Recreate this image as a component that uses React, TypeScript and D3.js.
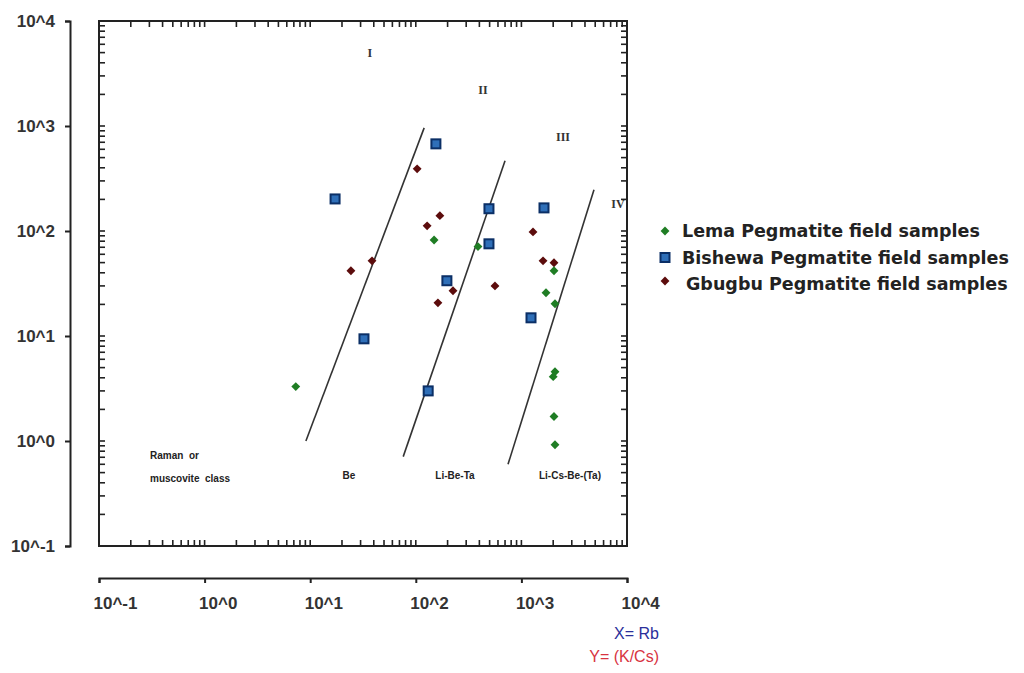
import { useEffect, useRef } from 'react';
import * as d3 from 'd3';

// Lema Pegmatite field samples (Rb vs K/Cs)
const lemaRb = [7.3, 149, 388, 1710, 2080, 2035, 2080, 2000, 2035, 2080];
const lemaKCs = [3.3, 82, 71, 25.8, 20.3, 41.8, 4.57, 4.1, 1.71, 0.92];

// Bishewa Pegmatite field samples
const bishewaRb = [17.2, 155, 32.3, 493, 493, 197, 1637, 1233, 131];
const bishewaKCs = [202, 676, 9.4, 163, 75.5, 33.6, 166, 14.9, 3.0];

// Gbugbu Pegmatite field samples
const gbugbuRb = [24.3, 38.5, 103, 128, 169, 162, 225, 562, 1288, 1603, 2035];
const gbugbuKCs = [41.8, 52, 391, 112, 140, 20.7, 27, 30, 98, 52, 49.8];

// class boundary lines (start, end)
const boundaryRb = [[9.1, 120], [76, 700], [747, 4870]];
const boundaryKCs = [[1.0, 960], [0.71, 466], [0.6, 247]];

// roman numeral class labels
const romanNames = ['I', 'II', 'III', 'IV'];
const romanRb = [36.8, 433, 2477, 8220];
const romanKCs = [4960, 2200, 787, 181];

// field names
const fieldNames = ['Be', 'Li-Be-Ta', 'Li-Cs-Be-(Ta)'];
const fieldRb = [23.3, 235, 2884];
const fieldKCs = [0.469, 0.469, 0.469];
const baremNames = ['Raman  or', 'muscovite  class'];
const baremRb = [0.304, 0.304];
const baremKCs = [0.73, 0.44];

const decades = [0.1, 1, 10, 100, 1000, 10000];
const legendNames = [
  'Lema Pegmatite field samples',
  'Bishewa Pegmatite field samples',
  'Gbugbu Pegmatite field samples',
];

const App = () => {
  const container = useRef(null);

  useEffect(() => {
    if (!container.current) return;
    const width = 1024, height = 673;
    const left = 99, right = 627, top = 21, bottom = 546;

    d3.select(container.current).selectAll('svg').remove();
    const svg = d3.select(container.current)
      .append('svg')
      .attr('width', width)
      .attr('height', height)
      .style('display', 'block')
      .style('background', '#fff');

    const x = d3.scaleLog().domain([0.1, 10000]).range([left, right]);
    const y = d3.scaleLog().domain([0.1, 10000]).range([bottom, top]);

    const fmt = (d: number) => '10^' + Math.round(Math.log10(d));

    // outer y axis
    const ya = svg.append('g')
      .attr('transform', 'translate(70,0)')
      .call(d3.axisLeft(y).tickValues(decades).tickFormat(fmt as any).tickSize(5).tickSizeOuter(5).tickPadding(10));
    ya.select('.domain').attr('stroke', '#222').attr('stroke-width', 2);
    ya.selectAll('.tick line').attr('stroke', '#222').attr('stroke-width', 2);
    ya.selectAll('.tick text')
      .attr('fill', '#333')
      .style('font-family', 'Liberation Sans, Arial, sans-serif')
      .style('font-weight', 'bold')
      .style('font-size', '17px');

    // outer x axis
    const xa = svg.append('g')
      .attr('transform', 'translate(0,578)')
      .call(d3.axisBottom(x).tickValues(decades).tickFormat(fmt as any).tickSize(5).tickSizeOuter(5).tickPadding(14));
    xa.select('.domain').attr('stroke', '#222').attr('stroke-width', 2);
    xa.selectAll('.tick line').attr('stroke', '#222').attr('stroke-width', 2);
    xa.selectAll('.tick text')
      .attr('fill', '#333')
      .attr('text-anchor', 'start')
      .attr('dx', -6)
      .style('font-family', 'Liberation Sans, Arial, sans-serif')
      .style('font-weight', 'bold')
      .style('font-size', '17px');

    // inner frame with log minor ticks
    svg.append('rect')
      .attr('x', left).attr('y', top)
      .attr('width', right - left).attr('height', bottom - top)
      .attr('fill', 'none').attr('stroke', '#222').attr('stroke-width', 2);

    const minor: number[] = [];
    [0.1, 1, 10, 100, 1000].forEach(k => {
      for (let m = 1; m <= 9; m++) minor.push(m * k);
    });
    const tl = 6;
    const frame = svg.append('g').attr('stroke', '#222').attr('stroke-width', 1.6);
    minor.forEach(v => {
      frame.append('line').attr('x1', x(v)).attr('x2', x(v)).attr('y1', top).attr('y2', top + tl);
      frame.append('line').attr('x1', x(v)).attr('x2', x(v)).attr('y1', bottom).attr('y2', bottom - tl);
      frame.append('line').attr('y1', y(v)).attr('y2', y(v)).attr('x1', left).attr('x2', left + tl);
      frame.append('line').attr('y1', y(v)).attr('y2', y(v)).attr('x1', right).attr('x2', right - tl);
    });

    // boundary lines
    boundaryRb.forEach((rb, i) => {
      svg.append('line')
        .attr('x1', x(rb[0])).attr('y1', y(boundaryKCs[i][0]))
        .attr('x2', x(rb[1])).attr('y2', y(boundaryKCs[i][1]))
        .attr('stroke', '#333').attr('stroke-width', 1.6);
    });

    // roman numerals
    romanNames.forEach((n, i) => {
      svg.append('text')
        .attr('x', x(romanRb[i])).attr('y', y(romanKCs[i]))
        .attr('dy', '0.35em')
        .attr('text-anchor', 'middle')
        .attr('fill', '#333')
        .style('font-family', 'Liberation Serif, serif')
        .style('font-weight', 'bold')
        .style('font-size', '12px')
        .text(n);
    });

    // field labels
    fieldNames.forEach((n, i) => {
      svg.append('text')
        .attr('x', x(fieldRb[i])).attr('y', y(fieldKCs[i]))
        .attr('dy', '0.35em')
        .attr('text-anchor', 'middle')
        .attr('fill', '#222')
        .style('font-family', 'Liberation Sans, Arial, sans-serif')
        .style('font-weight', 'bold')
        .style('font-size', '10px')
        .text(n);
    });
    baremNames.forEach((n, i) => {
      svg.append('text')
        .attr('x', x(baremRb[i])).attr('y', y(baremKCs[i]))
        .attr('dy', '0.35em')
        .attr('fill', '#222')
        .style('white-space', 'pre')
        .style('font-family', 'Liberation Sans, Arial, sans-serif')
        .style('font-weight', 'bold')
        .style('font-size', '10px')
        .text(n);
    });

    // markers
    const diamond = d3.symbol().type(d3.symbolDiamond2).size(50);
    const lema = lemaRb.map((r, i) => ({ r, k: lemaKCs[i] }));
    const bish = bishewaRb.map((r, i) => ({ r, k: bishewaKCs[i] }));
    const gbu = gbugbuRb.map((r, i) => ({ r, k: gbugbuKCs[i] }));

    svg.append('g').selectAll('path').data(gbu).join('path')
      .attr('d', diamond)
      .attr('transform', d => `translate(${x(d.r)},${y(d.k)})`)
      .attr('fill', '#5c0c0c');

    svg.append('g').selectAll('path').data(lema).join('path')
      .attr('d', diamond)
      .attr('transform', d => `translate(${x(d.r)},${y(d.k)})`)
      .attr('fill', '#1f7d24');

    svg.append('g').selectAll('rect').data(bish).join('rect')
      .attr('x', d => x(d.r) - 4.5).attr('y', d => y(d.k) - 4.5)
      .attr('width', 9).attr('height', 9)
      .attr('fill', '#2f6fb8')
      .attr('stroke', '#0b2f66').attr('stroke-width', 2);

    // legend
    const lg = svg.append('g').attr('transform', 'translate(665,231)');
    legendNames.forEach((n, i) => {
      const row = lg.append('g').attr('transform', `translate(0,${i * 26.5})`);
      if (i === 0) row.append('path').attr('d', diamond).attr('fill', '#1f7d24');
      if (i === 1) row.append('rect').attr('x', -4.5).attr('y', -4.5).attr('width', 9).attr('height', 9)
        .attr('fill', '#2f6fb8').attr('stroke', '#0b2f66').attr('stroke-width', 2);
      if (i === 2) row.append('path').attr('d', diamond).attr('fill', '#5c0c0c').attr('transform', 'translate(0,-3)');
      row.append('text')
        .attr('x', i === 2 ? 21 : 17)
        .attr('dy', '0.35em')
        .attr('fill', '#222')
        .style('font-family', 'DejaVu Sans, sans-serif')
        .style('font-weight', 'bold')
        .style('font-size', '17.5px')
        .text(n);
    });

    // axis titles
    svg.append('text')
      .attr('x', 659).attr('y', 639)
      .attr('text-anchor', 'end')
      .attr('fill', '#2b2f9a')
      .style('font-family', 'Liberation Sans, Arial, sans-serif')
      .style('font-size', '16px')
      .text('X= Rb');
    svg.append('text')
      .attr('x', 659).attr('y', 662)
      .attr('text-anchor', 'end')
      .attr('fill', '#d8333f')
      .style('font-family', 'Liberation Sans, Arial, sans-serif')
      .style('font-size', '16px')
      .text('Y= (K/Cs)');
  }, []);

  return <div ref={container} style={{ margin: -8 }} />;
};

export default App;
